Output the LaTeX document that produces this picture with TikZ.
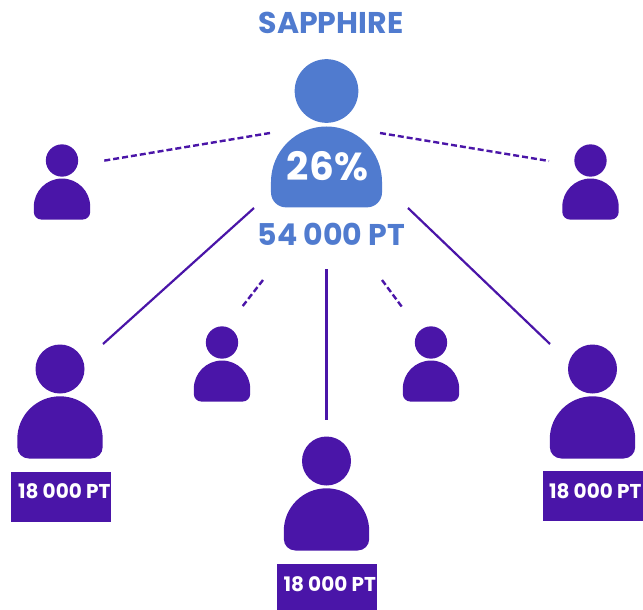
\documentclass[tikz,border=0pt]{standalone}
\usepackage{fontspec}
\setmainfont{Poppins}
\usetikzlibrary{positioning}
\definecolor{sapphire}{HTML}{507BCF}
\definecolor{violet}{HTML}{4A15A8}
\tikzset{
    %Define the person figure, origin at the centre of the head
    person/.pic={
           \fill (0,0) circle (24.5);
           \fill (-42.7,70) arc[start angle=180, end angle=360, radius=42.7]
                 -- (42.7,78) arc[start angle=0, end angle=90, radius=11.5]
                 -- (-31.2,89.5) arc[start angle=90, end angle=180, radius=11.5]
                 -- cycle;
           },
    %Define style for boxes
    ptbox/.style={
           rectangle,
           fill=violet,
           minimum width=100,
           minimum height=50,
           inner sep=0pt},
    pttext/.style={
           font=\bfseries\fontsize{20}{22}\selectfont,
           text=white,
           inner sep=0pt},
    bluetext/.style={
           font=\bfseries\fontsize{30}{33}\selectfont,
           text=sapphire,
           inner sep=0pt},
    % Define line styles
    solidline/.style={
           draw=violet,
           line width=2.2pt},
    dashline/.style={
           draw=violet,
           line width=2.4pt,
           dash pattern=on 6pt off 3pt}
}
\begin{document}
\begin{tikzpicture}[x=1pt,y=-1pt]
  \useasboundingbox (0,0) rectangle (643,610);
  \begin{scope}
  % central figure
  \pic[sapphire, scale=1.3] at (326.5,91) {person};
  \node[bluetext] (title) at (331,23) {SAPPHIRE};
  \node[font=\bfseries\fontsize{39}{42}\selectfont, text=white, inner sep=0pt] (share) at (327.5,166) {26\%};
  \node[bluetext] (total) at (331.5,234) {54 000 PT};
  % small figures
  \pic[violet, scale=.66] at (62,160.5) {person};
  \pic[violet, scale=.66] at (590.5,160.5) {person};
  \pic[violet, scale=.66] at (222,342.5) {person};
  \pic[violet, scale=.66] at (431,342.5) {person};
  % large figures
  \pic[violet] at (60,369) {person};
  \pic[violet] at (326.5,461) {person};
  \pic[violet] at (592.5,369) {person};
  % boxes under the large figures
  \node[ptbox] (leftbox) at (60.5,496.5) {};
  \node[ptbox, minimum height=46] (midbox) at (326.5,587) {};
  \node[ptbox] (rightbox) at (593,496) {};
  \node[pttext, right=7.5pt of leftbox.west, yshift=5pt] (lefttext) {18 000 PT};
  \node[pttext, right=7pt of midbox.west, yshift=3pt] (midtext) {18 000 PT};
  \node[pttext, right=6pt of rightbox.west, yshift=5pt] (righttext) {18 000 PT};
  % free ends of the lines
  \coordinate (a1) at (254,208);
  \coordinate (a2) at (103,344);
  \coordinate (b1) at (408,208);
  \coordinate (b2) at (550,344);
  \coordinate (c1) at (326.5,269);
  \coordinate (c2) at (326.5,420);
  \coordinate (d1) at (270,133);
  \coordinate (d2) at (102,161);
  \coordinate (e1) at (380,133);
  \coordinate (e2) at (549,161);
  \coordinate (f1) at (263,280);
  \coordinate (f2) at (242,307);
  \coordinate (g1) at (382,280);
  \coordinate (g2) at (402,307);
  \draw[solidline] (a1) -- (a2);
  \draw[solidline] (b1) -- (b2);
  \draw[solidline] (c1) -- (c2);
  \draw[dashline] (d1) -- (d2);
  \draw[dashline] (e1) -- (e2);
  \draw[dashline] (f1) -- (f2);
  \draw[dashline] (g1) -- (g2);
  \end{scope}
\end{tikzpicture}
\end{document}
